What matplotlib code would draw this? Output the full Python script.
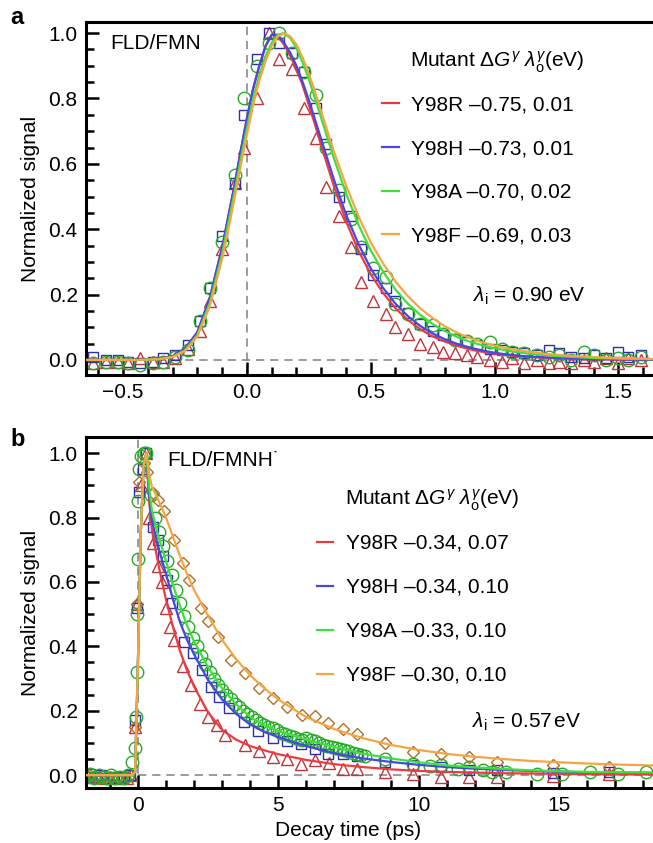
import matplotlib
matplotlib.use("Agg")
import matplotlib.pyplot as plt
from matplotlib.lines import Line2D
from matplotlib.ticker import MultipleLocator

plt.rcParams["font.family"] = ["Liberation Sans", "DejaVu Sans"]
plt.rcParams["mathtext.fontset"] = "custom"
plt.rcParams["mathtext.rm"] = "Liberation Sans"
plt.rcParams["mathtext.it"] = "Liberation Sans:italic"
plt.rcParams["mathtext.bf"] = "Liberation Sans:bold"

# ---------------- panel a: FLD/FMN ----------------
fit_t_a = [-0.65, -0.60, -0.55, -0.50, -0.45, -0.40, -0.35, -0.30, -0.25, -0.20, -0.15, -0.10,
           -0.075, -0.05, -0.025, 0.00, 0.025, 0.05, 0.075, 0.10, 0.125, 0.15, 0.175, 0.20, 0.225,
           0.25, 0.275, 0.30, 0.35, 0.40, 0.45, 0.50, 0.55, 0.60, 0.65, 0.70, 0.75, 0.80, 0.85,
           0.90, 0.95, 1.00, 1.05, 1.10, 1.15, 1.20, 1.25, 1.30, 1.35, 1.40, 1.45, 1.50, 1.55,
           1.60, 1.65]
fit_r_a = [0, 0, 0, 0, 0, 0.001, 0.004, 0.012, 0.035, 0.085, 0.19, 0.345,
           0.44, 0.535, 0.64, 0.74, 0.83, 0.90, 0.96, 0.995, 0.99, 0.965, 0.93, 0.89, 0.84,
           0.78, 0.72, 0.655, 0.535, 0.425, 0.335, 0.262, 0.205, 0.158, 0.122, 0.094, 0.072, 0.056, 0.043,
           0.033, 0.025, 0.019, 0.015, 0.011, 0.009, 0.007, 0.005, 0.004, 0.003, 0.002, 0.002, 0.001, 0.001,
           0.001, 0.0]
fit_h_a = [0, 0, 0, 0, 0, 0.001, 0.004, 0.012, 0.035, 0.085, 0.19, 0.345,
           0.44, 0.535, 0.64, 0.74, 0.83, 0.90, 0.96, 0.995, 0.995, 0.97, 0.94, 0.90, 0.85,
           0.795, 0.735, 0.675, 0.555, 0.445, 0.355, 0.28, 0.22, 0.172, 0.134, 0.104, 0.081, 0.063, 0.049,
           0.038, 0.029, 0.022, 0.017, 0.013, 0.010, 0.008, 0.006, 0.005, 0.004, 0.003, 0.002, 0.002, 0.001,
           0.001, 0.001]
fit_a_a = [0, 0, 0, 0, 0, 0.001, 0.003, 0.010, 0.030, 0.077, 0.175, 0.325,
           0.42, 0.515, 0.615, 0.71, 0.80, 0.87, 0.93, 0.97, 0.995, 1.0, 0.985, 0.955, 0.91,
           0.86, 0.80, 0.74, 0.62, 0.51, 0.415, 0.335, 0.27, 0.215, 0.172, 0.138, 0.11, 0.088, 0.07,
           0.056, 0.045, 0.036, 0.029, 0.023, 0.018, 0.015, 0.012, 0.010, 0.008, 0.006, 0.005, 0.004, 0.003,
           0.003, 0.002]
fit_f_a = [0, 0, 0, 0, 0, 0.001, 0.003, 0.009, 0.028, 0.072, 0.165, 0.31,
           0.40, 0.495, 0.595, 0.69, 0.78, 0.855, 0.915, 0.96, 0.99, 1.0, 0.99, 0.965, 0.925,
           0.875, 0.82, 0.76, 0.64, 0.535, 0.44, 0.36, 0.295, 0.24, 0.195, 0.158, 0.128, 0.103, 0.083,
           0.067, 0.054, 0.044, 0.036, 0.029, 0.024, 0.019, 0.016, 0.013, 0.011, 0.009, 0.007, 0.006, 0.005,
           0.004, 0.003]

t_a = [-0.62, -0.57, -0.52, -0.48, -0.43, -0.38, -0.34, -0.29, -0.24, -0.19, -0.15, -0.10,
       -0.05, -0.01, 0.04, 0.09, 0.13, 0.18, 0.23, 0.28, 0.32, 0.37, 0.42, 0.46, 0.51, 0.56,
       0.60, 0.65, 0.70, 0.75, 0.79, 0.84, 0.89, 0.93, 0.98, 1.03, 1.07, 1.12, 1.17, 1.22,
       1.26, 1.31, 1.36, 1.40, 1.45, 1.50, 1.54, 1.59]
y98r_a = [-0.01, -0.005, -0.005, -0.01, 0.005, -0.005, -0.005, 0.005, 0.035, 0.09, 0.18, 0.34,
          0.54, 0.65, 0.80, 1.0, 0.92, 0.89, 0.77, 0.68, 0.53, 0.44, 0.345, 0.24, 0.18, 0.14,
          0.10, 0.08, 0.05, 0.04, 0.025, 0.02, 0.015, 0.01, 0.0, -0.005, 0.005, -0.01, 0.0, -0.01,
          -0.005, -0.01, 0.0, -0.005, 0.005, -0.01, 0.005, 0.0]
y98h_a = [0.01, 0.0, 0.0, -0.005, -0.01, -0.005, 0.005, 0.015, 0.045, 0.12, 0.22, 0.38,
          0.54, 0.75, 0.92, 1.0, 0.97, 0.94, 0.88, 0.77, 0.66, 0.50, 0.44, 0.34, 0.26, 0.22,
          0.18, 0.145, 0.11, 0.09, 0.075, 0.065, 0.055, 0.045, 0.035, 0.03, 0.025, 0.02, 0.015, 0.03,
          0.02, 0.01, 0.005, 0.015, 0.005, 0.025, 0.01, 0.015]
y98a_a = [-0.01, -0.005, -0.005, -0.01, -0.015, -0.01, -0.005, 0.01, 0.03, 0.12, 0.22, 0.36,
          0.565, 0.80, 0.90, 0.97, 1.0, 0.94, 0.88, 0.81, 0.65, 0.52, 0.43, 0.345, 0.28, 0.255,
          0.17, 0.14, 0.11, 0.107, 0.08, 0.06, 0.058, 0.05, 0.055, 0.035, 0.025, 0.02, 0.015, 0.01,
          0.015, 0.0, 0.025, 0.015, 0.0, 0.005, 0.0, 0.01]

labels_a = ["Y98R \u20130.75, 0.01", "Y98H \u20130.73, 0.01",
            "Y98A \u20130.70, 0.02", "Y98F \u20130.69, 0.03"]

# ---------------- panel b: FLD/FMNH ----------------
fit_t_b = [-1.85, -1.0, -0.3, -0.2, -0.1, 0.0, 0.1, 0.2, 0.3, 0.4, 0.5, 0.75, 1.0, 1.25, 1.5,
           1.75, 2.0, 2.5, 3.0, 3.5, 4.0, 4.5, 5.0, 6.0, 7.0, 8.0, 9.0, 10.0, 11.0, 12.0, 13.0,
           14.0, 15.0, 16.0, 17.0, 18.35]
fit_r_b = [0, 0, 0, 0, 0.01, 0.35, 0.75, 0.96, 1.0, 0.85, 0.76, 0.645, 0.545, 0.46, 0.385,
           0.325, 0.275, 0.195, 0.14, 0.11, 0.09, 0.077, 0.065, 0.047, 0.034, 0.025, 0.018, 0.013,
           0.01, 0.008, 0.006, 0.005, 0.004, 0.003, 0.002, 0.002]
fit_h_b = [0, 0, 0, 0, 0.01, 0.35, 0.75, 0.96, 1.0, 0.87, 0.79, 0.70, 0.625, 0.545, 0.475,
           0.42, 0.375, 0.295, 0.235, 0.19, 0.157, 0.135, 0.118, 0.09, 0.068, 0.052, 0.041, 0.032,
           0.025, 0.02, 0.016, 0.013, 0.011, 0.009, 0.008, 0.007]
fit_a_b = [0, 0, 0, 0, 0.01, 0.35, 0.75, 0.96, 1.0, 0.89, 0.82, 0.735, 0.665, 0.59, 0.525,
           0.465, 0.415, 0.335, 0.27, 0.22, 0.18, 0.155, 0.137, 0.11, 0.087, 0.067, 0.052, 0.04,
           0.03, 0.024, 0.019, 0.015, 0.012, 0.01, 0.009, 0.008]
fit_f_b = [0, 0, 0, 0, 0.01, 0.35, 0.75, 0.96, 1.0, 0.935, 0.895, 0.85, 0.80, 0.74, 0.68,
           0.625, 0.575, 0.495, 0.42, 0.36, 0.31, 0.27, 0.235, 0.18, 0.143, 0.115, 0.094, 0.078,
           0.066, 0.057, 0.05, 0.044, 0.04, 0.036, 0.033, 0.03]

t_r_b = [-1.8, -1.6, -1.4, -1.2, -1.0, -0.8, -0.6, -0.4, -0.25, -0.1, -0.03, 0.1, 0.3,
         0.4, 0.55, 0.7, 0.85, 1.0, 1.15, 1.3, 1.6, 1.9, 2.2, 2.5, 2.8, 3.1, 3.8, 4.3, 4.8,
         5.3, 5.8, 6.3, 6.8, 7.3, 7.8, 8.8, 9.8, 10.8, 11.8, 12.8, 14.8, 16.8]
y98r_b = [0.0, -0.005, -0.005, -0.01, -0.005, -0.01, -0.005, -0.01, 0.0, 0.15, 0.53, 0.90, 1.0,
          0.80, 0.72, 0.65, 0.60, 0.52, 0.46, 0.42, 0.34, 0.28, 0.22, 0.18, 0.155, 0.124, 0.092,
          0.075, 0.056, 0.05, 0.035, 0.047, 0.037, 0.02, 0.02, 0.01, 0.003, -0.005, -0.005, -0.005,
          -0.002, 0.003]

t_h_b = [-1.7, -1.5, -1.3, -1.1, -0.9, -0.7, -0.5, -0.3, -0.1, -0.03, 0.05, 0.17, 0.3,
         0.52, 0.70, 0.88, 1.05, 1.23, 1.65, 1.95, 2.3, 2.6, 2.9, 3.25, 3.78, 4.27, 4.8, 5.3,
         5.8, 6.3, 6.77, 7.3, 7.8, 8.8, 9.8, 10.8, 11.8, 12.8, 14.8, 16.8]
y98h_b = [0.005, -0.005, 0.0, -0.01, -0.005, -0.01, -0.005, 0.0, 0.17, 0.52, 0.88, 0.95, 1.0,
          0.77, 0.73, 0.68, 0.605, 0.535, 0.414, 0.38, 0.326, 0.273, 0.243, 0.208, 0.165, 0.137,
          0.116, 0.105, 0.098, 0.08, 0.067, 0.067, 0.06, 0.04, 0.03, 0.025, 0.015, 0.015, 0.008, 0.01]

t_a_b = [-1.85, -1.7, -1.55, -1.4, -1.25, -1.1, -0.95, -0.8, -0.65, -0.5, -0.35,
         -0.2, -0.12, -0.08, -0.05, -0.03, -0.01, 0.02, 0.05, 0.1, 0.2,
         0.30, 0.45, 0.60, 0.75, 0.90, 1.05, 1.20, 1.35, 1.50, 1.65, 1.80, 1.95, 2.10, 2.25,
         2.40, 2.55, 2.70, 2.85, 3.00, 3.15, 3.30, 3.45, 3.60, 3.75, 3.90, 4.05, 4.20, 4.35,
         4.50, 4.65, 4.80, 4.95, 5.10, 5.25, 5.40, 5.55, 5.70, 5.85, 6.00, 6.15, 6.30, 6.45,
         6.60, 6.75, 6.90, 7.05, 7.20, 7.35, 7.50, 7.65, 7.80, 7.95, 8.10,
         8.8, 9.8, 10.4, 10.8, 11.4, 11.8, 12.3, 12.6, 13.1, 14.2, 15.1, 16.1, 17.1, 18.1]
y98a_b = [-0.005, 0.005, -0.01, 0.0, -0.005, -0.01, 0.0, -0.01, -0.005, -0.01, 0.0,
          0.04, 0.085, 0.18, 0.32, 0.50, 0.67, 0.85, 0.95, 0.99, 1.0,
          1.0, 0.87, 0.80, 0.755, 0.71, 0.665, 0.62, 0.575, 0.535, 0.495, 0.46, 0.425, 0.40, 0.37,
          0.345, 0.32, 0.30, 0.28, 0.265, 0.25, 0.235, 0.222, 0.21, 0.20, 0.19, 0.18, 0.17, 0.163,
          0.155, 0.15, 0.145, 0.14, 0.132, 0.127, 0.122, 0.117, 0.112, 0.11, 0.115, 0.11, 0.105, 0.10,
          0.095, 0.09, 0.088, 0.085, 0.08, 0.078, 0.075, 0.07, 0.066, 0.062, 0.058,
          0.05, 0.035, 0.028, 0.03, 0.02, 0.025, 0.015, 0.01, 0.01, 0.005, 0.005, 0.01, 0.005, 0.01]

t_f_b = [-1.75, -1.55, -1.35, -1.15, -0.95, -0.75, -0.55, -0.35, -0.1, -0.02, 0.05, 0.2,
         0.34, 0.52, 0.70, 0.94, 1.29, 1.59, 1.83, 2.24, 2.48, 2.84, 3.31, 3.8, 4.3, 4.8, 5.3,
         5.83, 6.3, 6.77, 7.3, 7.79, 8.8, 9.8, 10.8, 11.8, 12.8, 14.8, 16.8]
y98f_b = [0.0, -0.005, -0.01, -0.005, -0.01, -0.005, -0.01, -0.005, 0.15, 0.53, 0.91, 0.97,
          0.94, 0.875, 0.854, 0.82, 0.73, 0.66, 0.605, 0.52, 0.48, 0.43, 0.357, 0.316, 0.272, 0.24,
          0.21, 0.186, 0.185, 0.163, 0.143, 0.127, 0.10, 0.072, 0.067, 0.056, 0.042, 0.032, 0.025]

labels_b = ["Y98R \u20130.34, 0.07", "Y98H \u20130.34, 0.10",
            "Y98A \u20130.33, 0.10", "Y98F \u20130.30, 0.10"]

line_cols = ["#ec3b3f", "#4747e6", "#3ee03a", "#f6a545"]
mark_cols = ["#c0353b", "#2f2fae", "#2aaa2a", "#b36f2a"]

W, H = 653, 843
fig = plt.figure(figsize=(W / 100, H / 100), dpi=100)
ax_a = fig.add_axes([86 / W, 1 - 375 / H, 1 - 86 / W, (375 - 22) / H])
ax_b = fig.add_axes([86 / W, 1 - 788 / H, 1 - 86 / W, (788 - 437) / H])

for ax in (ax_a, ax_b):
    for s in ("left", "top", "bottom"):
        ax.spines[s].set_linewidth(2.2)
    ax.spines["right"].set_visible(False)
    ax.tick_params(which="both", direction="in", top=False, right=False, labelsize=15, width=1.8)
    ax.tick_params(which="major", length=9.5, pad=6)
    ax.tick_params(which="minor", length=6)
    ax.yaxis.set_major_locator(MultipleLocator(0.2))
    ax.yaxis.set_minor_locator(MultipleLocator(0.05))

# panel a
ax_a.axvline(0, color="#8a8a8a", lw=1.2, ls=(0, (5, 3.5)), zorder=1)
ax_a.axhline(0, color="#8a8a8a", lw=1.2, ls=(0, (5, 3.5)), zorder=1)
ax_a.plot(t_a, y98r_a, ls="none", marker="^", ms=8, mfc="none", mec=mark_cols[0], mew=1.0, zorder=2)
ax_a.plot(t_a, y98h_a, ls="none", marker="s", ms=6.5, mfc="none", mec=mark_cols[1], mew=1.0, zorder=2)
ax_a.plot(t_a, y98a_a, ls="none", marker="o", ms=9, mfc="none", mec=mark_cols[2], mew=1.0, zorder=2)
for ys, c in zip([fit_r_a, fit_h_a, fit_a_a, fit_f_a], line_cols):
    ax_a.plot(fit_t_a, ys, color=c, lw=1.6, zorder=3)
ax_a.set_xlim(-0.65, 1.64)
ax_a.set_ylim(-0.046, 1.034)
ax_a.xaxis.set_major_locator(MultipleLocator(0.5))
ax_a.xaxis.set_minor_locator(MultipleLocator(0.1))
ax_a.set_yticks([0.0, 0.2, 0.4, 0.6, 0.8, 1.0], ["0.0", "0.2", "0.4", "0.6", "0.8", "1.0"])
ax_a.set_xticks([-0.5, 0.0, 0.5, 1.0, 1.5], ["\u22120.5", "0.0", "0.5", "1.0", "1.5"])

handles = [Line2D([], [], color=c, lw=1.6) for c in line_cols]
ax_a.legend(handles, labels_a, loc="upper left", bbox_to_anchor=(0.522, 0.791),
            frameon=False, fontsize=15, handlelength=0.8, handletextpad=0.6,
            labelspacing=1.18, borderpad=0, borderaxespad=0)
ax_a.text(0.571, 0.887, r"Mutant $\Delta G^{\gamma}$ $\lambda_{\rm o}^{\gamma}$(eV)",
          transform=ax_a.transAxes, fontsize=15, va="center", ha="left")
ax_a.text(0.683, 0.224, r"$\lambda_{\rm i}$ = 0.90 eV", transform=ax_a.transAxes,
          fontsize=15, va="center", ha="left")
ax_a.text(0.042, 0.94, "FLD/FMN", transform=ax_a.transAxes, fontsize=15, va="center", ha="left")

# panel b
ax_b.axvline(0, color="#8a8a8a", lw=1.2, ls=(0, (5, 3.5)), zorder=1)
ax_b.hlines(0, 0, 18.35, color="#8a8a8a", lw=1.2, ls=(0, (5, 3.5)), zorder=1)
ax_b.plot(t_r_b, y98r_b, ls="none", marker="^", ms=8, mfc="none", mec=mark_cols[0], mew=1.0, zorder=2)
ax_b.plot(t_h_b, y98h_b, ls="none", marker="s", ms=6.5, mfc="none", mec=mark_cols[1], mew=1.0, zorder=2)
ax_b.plot(t_f_b, y98f_b, ls="none", marker="D", ms=6.5, mfc="none", mec=mark_cols[3], mew=1.0, zorder=2)
ax_b.plot(t_a_b, y98a_b, ls="none", marker="o", ms=9, mfc="none", mec=mark_cols[2], mew=1.0, zorder=2)
for ys, c in zip([fit_r_b, fit_h_b, fit_a_b, fit_f_b], line_cols):
    ax_b.plot(fit_t_b, ys, color=c, lw=1.6, zorder=3)
ax_b.set_xlim(-1.85, 18.35)
ax_b.set_ylim(-0.04, 1.05)
ax_b.xaxis.set_major_locator(MultipleLocator(5))
ax_b.xaxis.set_minor_locator(MultipleLocator(1))
ax_b.set_yticks([0.0, 0.2, 0.4, 0.6, 0.8, 1.0], ["0.0", "0.2", "0.4", "0.6", "0.8", "1.0"])

handles = [Line2D([], [], color=c, lw=1.6) for c in line_cols]
ax_b.legend(handles, labels_b, loc="upper left", bbox_to_anchor=(0.407, 0.724),
            frameon=False, fontsize=15, handlelength=0.8, handletextpad=0.6,
            labelspacing=1.2, borderpad=0, borderaxespad=0)
ax_b.text(0.457, 0.8205, r"Mutant $\Delta G^{\gamma}$ $\lambda_{\rm o}^{\gamma}$(eV)",
          transform=ax_b.transAxes, fontsize=15, va="center", ha="left")
ax_b.text(0.681, 0.188, r"$\lambda_{\rm i}$ = 0.57$\,$eV", transform=ax_b.transAxes,
          fontsize=15, va="center", ha="left")
ax_b.text(0.143, 0.932, "FLD/FMNH\u02d9", transform=ax_b.transAxes, fontsize=15, va="center", ha="left")

ax_a.set_ylabel("Normalized signal", fontsize=15, labelpad=6)
ax_b.set_ylabel("Normalized signal", fontsize=15, labelpad=6)
fig.text(348 / W, 1 - 830 / H, "Decay time (ps)", fontsize=15, ha="center", va="center")
fig.text(10 / W, 1 - 18 / H, "a", fontsize=17, fontweight="bold", ha="left", va="center")
fig.text(10 / W, 1 - 440 / H, "b", fontsize=17, fontweight="bold", ha="left", va="center")

fig.savefig("out.png", dpi=100)
